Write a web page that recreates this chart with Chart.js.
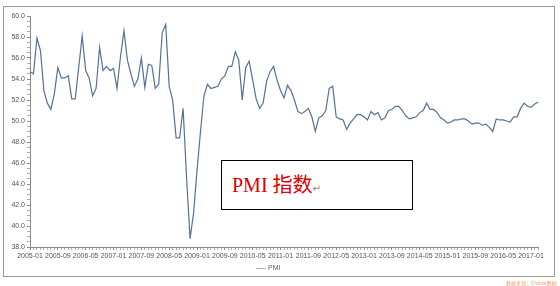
<!DOCTYPE html>
<html><head><meta charset="utf-8">
<script src="https://cdn.jsdelivr.net/npm/chart.js@4"></script>
<style>
html,body{margin:0;padding:0;background:#fff;}
#wrap{position:relative;width:560px;height:286px;overflow:hidden;background:#fff;}
#frame{position:absolute;left:3px;top:6px;width:552px;height:271px;border:1px solid #9a9a9a;box-sizing:border-box;}
#c{position:absolute;left:0;top:0;}
#note{position:absolute;left:221px;top:160px;width:192px;height:50px;border:1px solid #000;box-sizing:border-box;background:#fff;}
#note .t{position:absolute;left:10px;top:10px;color:#e00000;font-size:20px;line-height:26px;white-space:nowrap;}
#note .en{font-family:"Liberation Serif","DejaVu Serif",serif;}
#note .zh{font-family:"Noto Sans CJK SC",sans-serif;}
#note .ret{color:#888;font-size:10px;font-family:"DejaVu Sans",sans-serif;}
#wm{position:absolute;left:506px;top:279px;font-size:5px;color:#e8a070;font-family:"Noto Sans CJK SC",sans-serif;white-space:nowrap;}
</style></head>
<body>
<div id="wrap">
  <div id="frame"></div>
  <canvas id="c" width="560" height="286"></canvas>
  <div id="note"><div class="t"><span class="en">PMI</span> <span class="zh">指数</span><span class="ret">↵</span></div></div>
  <div id="wm">数据来源：Choice数据</div>
</div>
<script>
// Monthly categories: 2005-01 .. 2017-03
const startYear = 2005;
const monthCount = 147;
const months = [];
for (let i = 0; i < monthCount; i++) {
  const y = startYear + Math.floor(i / 12);
  const m = (i % 12) + 1;
  months.push(y + '-' + (m < 10 ? '0' + m : m));
}
const seriesName = 'PMI';
const pmi = [
  54.7, 54.5, 57.9, 56.7, 52.9, 51.7, 51.1, 52.6, 55.1, 54.1, 54.1, 54.3,
  52.1, 52.1, 55.1, 58.1, 54.8, 54.1, 52.4, 53.1, 57.0, 54.8, 55.2, 54.8,
  55.0, 53.1, 56.1, 58.6, 55.8, 54.5, 53.3, 54.0, 56.0, 53.2, 55.4, 55.3,
  53.1, 53.5, 58.4, 59.2, 53.3, 52.0, 48.4, 48.4, 51.2, 44.6, 38.8, 41.2,
  45.3, 49.0, 52.4, 53.5, 53.1, 53.2, 53.3, 54.0, 54.3, 55.2, 55.2, 56.6,
  55.8, 52.0, 55.1, 55.7, 53.9, 52.1, 51.2, 51.7, 53.8, 54.7, 55.2, 53.9,
  52.9, 52.2, 53.4, 52.9, 52.0, 50.9, 50.7, 50.9, 51.2, 50.4, 49.0, 50.3,
  50.5, 51.0, 53.1, 53.3, 50.4, 50.2, 50.1, 49.2, 49.8, 50.2, 50.6, 50.6,
  50.4, 50.1, 50.9, 50.6, 50.8, 50.1, 50.3, 51.0, 51.1, 51.4, 51.4, 51.0,
  50.5, 50.2, 50.3, 50.4, 50.8, 51.0, 51.7, 51.1, 51.1, 50.8, 50.3, 50.1,
  49.8, 49.9, 50.1, 50.1, 50.2, 50.2, 50.0, 49.7, 49.8, 49.8, 49.6, 49.7,
  49.4, 49.0, 50.2, 50.1, 50.1, 50.0, 49.9, 50.4, 50.4, 51.2, 51.7, 51.4,
  51.3, 51.6, 51.8
];
const yMin = 38, yMax = 60, yMinorStep = 0.5, yLabelStep = 2;
const xLabelEvery = 8;

const lineColor = '#56709a';
const axisColor = '#8c8c8c';
const minorTickColor = '#b0b0b0';
const tickFont = {family: 'Liberation Sans, Arial, sans-serif', size: 7};

new Chart(document.getElementById('c'), {
  type: 'line',
  data: {
    labels: months,
    datasets: [{
      label: seriesName,
      data: pmi,
      borderColor: lineColor,
      backgroundColor: lineColor,
      borderWidth: 1.2,
      pointRadius: 0,
      pointHoverRadius: 0,
      tension: 0,
      fill: false
    }]
  },
  options: {
    responsive: false,
    animation: false,
    devicePixelRatio: 1,
    layout: {padding: {left: 0, right: 22, top: 16, bottom: 4}},
    plugins: {
      tooltip: {enabled: false},
      legend: {
        display: true,
        position: 'bottom',
        labels: {
          usePointStyle: true,
          pointStyle: 'line',
          boxWidth: 14,
          boxHeight: 7,
          color: '#666',
          padding: 4,
          font: {family: 'Liberation Sans, Arial, sans-serif', size: 7},
          generateLabels: (chart) => [{
            text: seriesName,
            fillStyle: '#a8b6cc',
            strokeStyle: '#a8b6cc',
            lineWidth: 1,
            pointStyle: 'line',
            hidden: false,
            datasetIndex: 0,
            fontColor: '#666'
          }]
        }
      }
    },
    scales: {
      x: {
        type: 'category',
        offset: false,
        grid: {
          display: true, drawOnChartArea: false, drawTicks: true, tickLength: 3,
          color: axisColor,
          tickColor: (ctx) => (ctx.index % xLabelEvery === 0 ? axisColor : minorTickColor)
        },
        border: {display: true, color: axisColor, width: 1},
        ticks: {
          autoSkip: false,
          maxRotation: 0,
          minRotation: 0,
          padding: 2,
          color: '#555',
          font: tickFont,
          callback: function(v, i) { return i % xLabelEvery === 0 ? months[i] : ''; }
        },
        afterFit: (s) => { s.height = 14; }
      },
      y: {
        min: yMin,
        max: yMax,
        grid: {
          display: true, drawOnChartArea: false, drawTicks: true, tickLength: 3,
          color: axisColor,
          tickColor: (ctx) => (ctx.tick && Math.abs(ctx.tick.value % yLabelStep) < 1e-9 ? axisColor : minorTickColor)
        },
        border: {display: true, color: axisColor, width: 1},
        ticks: {
          stepSize: yMinorStep,
          autoSkip: false,
          padding: 2,
          color: '#555',
          font: tickFont,
          callback: function(v) { return (Math.abs(v % yLabelStep) < 1e-9) ? v.toFixed(1) : ''; }
        },
        afterFit: (s) => { s.width = 30; }
      }
    }
  }
});
</script>
</body></html>
